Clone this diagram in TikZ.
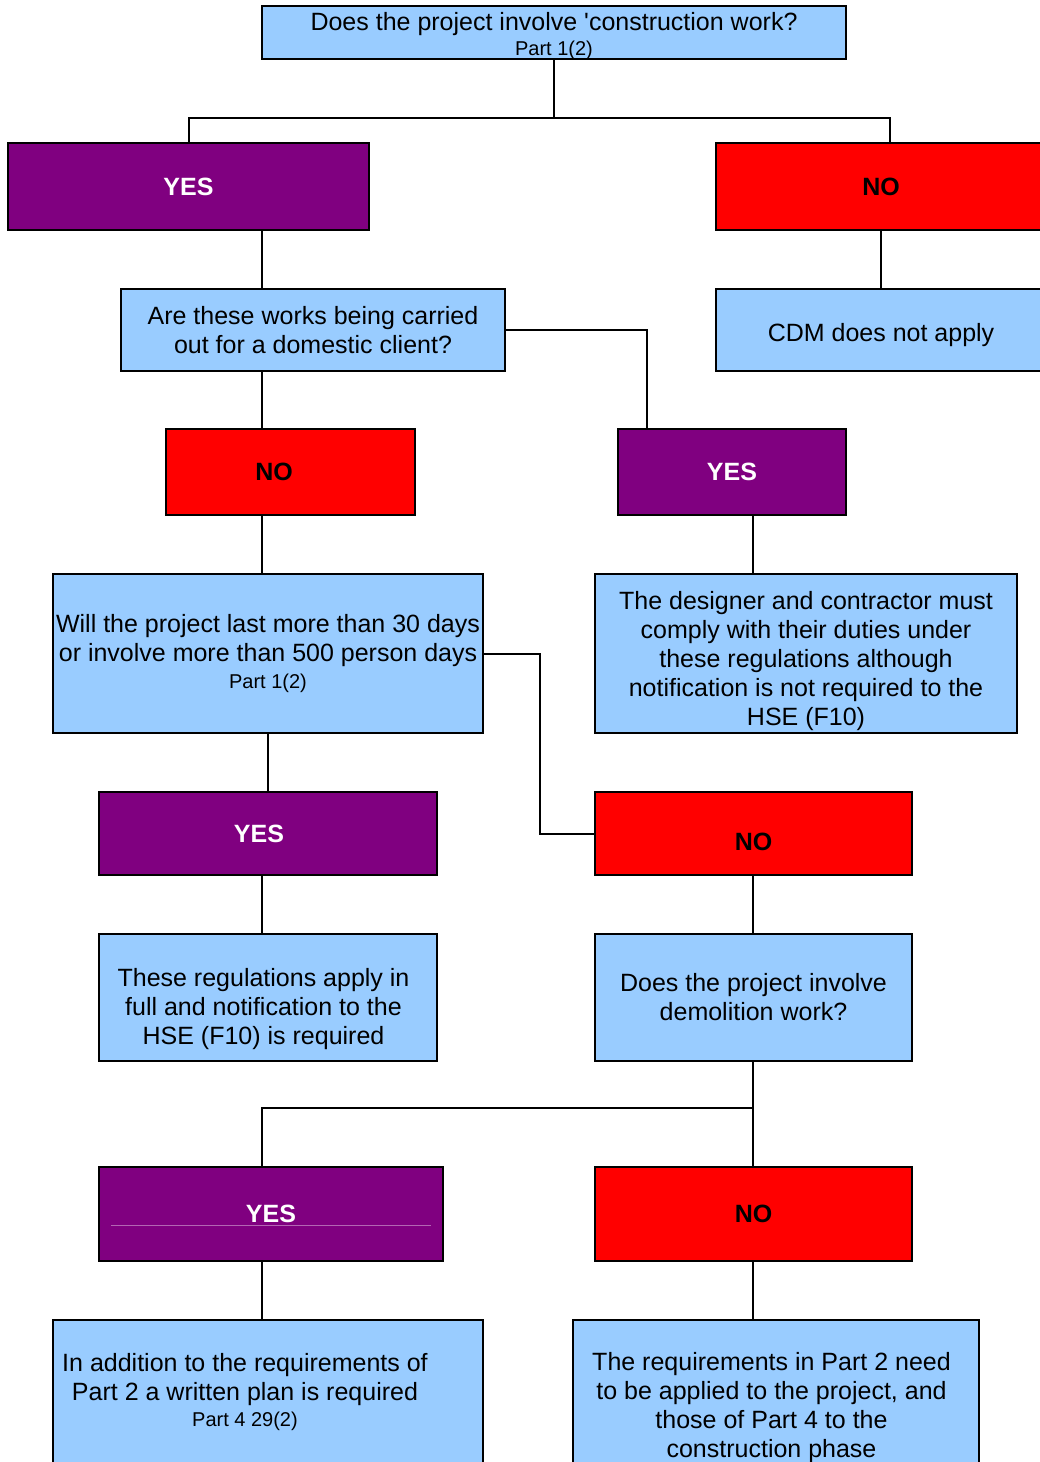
\documentclass[tikz,border=0pt]{standalone}
\usepackage{fontspec}
\setmainfont{Liberation Sans}
\usetikzlibrary{calc}

\definecolor{qblue}{HTML}{99CCFF}
\definecolor{yespurple}{HTML}{800080}
\definecolor{nored}{HTML}{FF0000}

\newcommand{\partref}[1]{{\fontsize{10pt}{12pt}\selectfont #1}}

\begin{document}
\begin{tikzpicture}[x=0.5pt, y=-0.5pt,
        box/.style={draw, line width=1.25pt, rectangle, align=center, inner sep=0pt,
            font=\fontsize{12.5pt}{14.5pt}\selectfont},
        qbox/.style={box, fill=qblue},
        yesbox/.style={box, fill=yespurple, text=white, font=\fontsize{12.5pt}{14.5pt}\selectfont\bfseries},
        nobox/.style={box, fill=nored, font=\fontsize{12.5pt}{14.5pt}\selectfont\bfseries},
        qtext/.style={align=center, inner sep=0pt, font=\fontsize{12.5pt}{14.5pt}\selectfont},
        ansfont/.style={inner sep=0pt, font=\fontsize{12.5pt}{14.5pt}\selectfont\bfseries},
        link/.style={draw, line width=1pt},
        every edge/.style={link}]
        \useasboundingbox (0, 0) rectangle (1039, 1462);

        \coordinate (leftcol) at (262, 0);
        \coordinate (rightcol) at (753, 0);

        \node[qbox, minimum width=292pt, minimum height=26.5pt,
            label={[qtext, yshift=-1.75pt]center:{Does the project involve \textquotesingle construction work?\\[-2pt]\partref{Part 1(2)}}}](Q1) at (554, 32.5){};
        \node[yesbox, minimum width=180.5pt, minimum height=43.5pt](Q1_yes) at (188.5, 186.5){YES};
        \node[nobox, minimum width=165pt, minimum height=43.5pt](Q1_no) at (881, 186.5){NO};
        \node[qbox, minimum width=165pt, minimum height=41pt,
            label={[qtext, yshift=-2.5pt]center:CDM does not apply}](Q1_end) at (881, 330){};

        \coordinate (split1) at (554, 118);
        \path(Q1.south) edge (split1);
        \draw[link](Q1_yes.north) |- (split1) -| ([xshift=4.5pt]Q1_no.north);
        \path(Q1_no.south) edge (Q1_end.north);

        \node[qbox, minimum width=192pt, minimum height=41pt](Q2) at (313, 330){Are these works being carried\\out for a domestic client?};
        \node[nobox, minimum width=124.5pt, minimum height=43pt,
            label={[ansfont, xshift=-8.25pt]center:NO}](Q2_no) at (290.5, 472){};
        \node[yesbox, minimum width=114pt, minimum height=43pt](Q2_yes) at (732, 472){YES};
        \node[qbox, minimum width=211pt, minimum height=79.5pt,
            label={[qtext, yshift=-4pt]center:{The designer and contractor must\\comply with their duties under\\these regulations although\\notification is not required to the\\HSE (F10)}}](Q2_end) at (806, 653.5){};

        \path(Q1_yes.south -| leftcol) edge (Q2.north -| leftcol);
        \path(Q2.south -| leftcol) edge (Q2_no.north -| leftcol);
        \draw[link](Q2.east) -| ([xshift=15pt]Q2_yes.north west);
        \path(Q2_yes.south -| rightcol) edge (Q2_end.north -| rightcol);

        \node[qbox, minimum width=215pt, minimum height=79.5pt](Q3) at (268, 653.5){Will the project last more than 30 days\\or involve more than 500 person days\\[-1pt]\partref{Part 1(2)}};
        \node[yesbox, minimum width=169pt, minimum height=41.5pt,
            label={[ansfont, text=white, xshift=-4.5pt]center:YES}](Q3_yes) at (268, 833.5){};
        \node[nobox, minimum width=158.5pt, minimum height=41.5pt,
            label={[ansfont, yshift=-4pt]center:NO}](Q3_no) at (753.5, 833.5){};
        \node[qbox, minimum width=169pt, minimum height=63.5pt,
            label={[qtext, xshift=-2.25pt, yshift=-6pt]center:{These regulations apply in\\full and notification to the\\HSE (F10) is required}}](Q3_end) at (268, 997.5){};

        \path(Q2_no.south -| leftcol) edge (Q3.north -| leftcol);
        \path(Q3.south) edge (Q3_yes.north);
        \draw[link](Q3.east) -- ++(56, 0) |- (Q3_no.west);
        \path(Q3_yes.south -| leftcol) edge (Q3_end.north -| leftcol);

        \node[qbox, minimum width=158.5pt, minimum height=63.5pt](Q4) at (753.5, 997.5){Does the project involve\\demolition work?};
        \node[yesbox, minimum width=172pt, minimum height=47pt](Q4_yes) at (271, 1214){YES};
        \node[nobox, minimum width=158.5pt, minimum height=47pt](Q4_no) at (753.5, 1214){NO};
        \draw[yespurple!60!white, line width=0.5pt] ($(Q4_yes.west)+(13, 11)$) -- ($(Q4_yes.east)+(-13, 11)$);
        \node[qbox, minimum width=215pt, minimum height=75pt,
            label={[qtext, xshift=-11.5pt, yshift=1.5pt]center:{In addition to the requirements of\\Part 2 a written plan is required\\[-1.5pt]\partref{Part 4 29(2)}}}](Q4_end_yes) at (268, 1395){};
        \node[qbox, minimum width=203pt, minimum height=87.5pt,
            label={[qtext, xshift=-2.25pt]center:{The requirements in Part 2 need\\to be applied to the project, and\\those of Part 4 to the\\construction phase}}](Q4_end_no) at (776, 1407.5){};

        \path(Q3_no.south -| rightcol) edge (Q4.north -| rightcol);
        \coordinate (split2) at (753, 1108);
        \path(Q4.south -| rightcol) edge (Q4_no.north -| rightcol);
        \draw[link](Q4_yes.north -| leftcol) |- (split2);
        \path(Q4_yes.south -| leftcol) edge (Q4_end_yes.north -| leftcol);
        \path(Q4_no.south -| rightcol) edge (Q4_end_no.north -| rightcol);

    \end{tikzpicture}
\end{document}
